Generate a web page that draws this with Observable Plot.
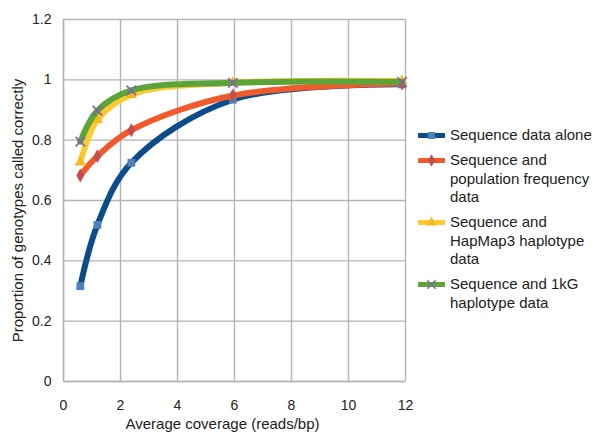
<!DOCTYPE html>
<html>
<head>
<meta charset="utf-8">
<script src="https://cdn.jsdelivr.net/npm/d3@7"></script>
<script src="https://cdn.jsdelivr.net/npm/@observablehq/plot@0.6"></script>
<style>
  html, body { margin: 0; padding: 0; background: #fff; }
  #wrap { position: relative; width: 600px; height: 442px; font-family: "Liberation Sans", Arial, sans-serif; }
  #legend { position: absolute; left: 418px; top: 126px; font-size: 15px; color: #222; line-height: 18.5px; }
  .item { display: flex; align-items: flex-start; margin-bottom: 6.5px; }
  .item svg { flex: none; margin-top: 0px; margin-right: 5px; }
</style>
</head>
<body>
<div id="wrap"><div id="legend"></div></div>
<script>
const coverage = [0.59, 1.19, 2.38, 5.94, 11.88];
const seriesNames = [
  "Sequence data alone",
  "Sequence and population frequency data",
  "Sequence and HapMap3 haplotype data",
  "Sequence and 1kG haplotype data"
];
const legendLines = [
  ["Sequence data alone"],
  ["Sequence and", "population frequency", "data"],
  ["Sequence and", "HapMap3 haplotype", "data"],
  ["Sequence and 1kG", "haplotype data"]
];
const seqAlone    = [0.316, 0.519, 0.725, 0.934, 0.985];
const seqPopFreq  = [0.683, 0.747, 0.833, 0.948, 0.988];
const seqHapMap3  = [0.727, 0.868, 0.951, 0.990, 0.996];
const seq1kG      = [0.795, 0.898, 0.965, 0.990, 0.993];
const xTicks = [0, 2, 4, 6, 8, 10, 12];
const yTicks = [0, 0.2, 0.4, 0.6, 0.8, 1, 1.2];
const yTickLabels = ["0", "0.2", "0.4", "0.6", "0.8", "1", "1.2"];

const lineColors = ["#0d4c8b", "#f15a2b", "#ffca2e", "#5aa43a"];
const markerFill = ["#4f81bd", "#c0504d", "#f4b820", "none"];
const markerStroke = ["none", "none", "none", "#8064a2"];
const symbols = ["square", "diamond", "triangle", "times"];
const markerR = [4.4, 4.2, 4.2, 4.4];

const allValues = [seqAlone, seqPopFreq, seqHapMap3, seq1kG];
const data = allValues.flatMap((vals, s) =>
  vals.map((v, i) => ({series: seriesNames[s], s, x: coverage[i], y: v})));

const marks = [
  Plot.gridX(xTicks, {stroke: "#b3b3b3", strokeOpacity: 1, strokeWidth: 1.4}),
  Plot.gridY(yTicks, {stroke: "#b3b3b3", strokeOpacity: 1, strokeWidth: 1.4}),
  Plot.ruleY([0], {stroke: "#b3b3b3", strokeWidth: 1.4}),
  Plot.ruleX([0], {stroke: "#b3b3b3", strokeWidth: 1.4}),
  Plot.axisX(xTicks, {tickSize: 0, tickPadding: 19, fontSize: 14, label: null, fill: "#222"}),
  Plot.axisY(yTicks, {tickSize: 0, tickPadding: 12, fontSize: 14, label: null, fill: "#222",
    tickFormat: (d) => yTickLabels[yTicks.indexOf(d)]}),
  Plot.text(["Average coverage (reads/bp)"], {frameAnchor: "bottom", textAnchor: "middle", dy: 47, dx: -12, fontSize: 15, fill: "#222"}),
  Plot.text(["Proportion of genotypes called correctly"], {frameAnchor: "left", textAnchor: "middle", dx: -45, dy: 10, rotate: -90, fontSize: 15, fill: "#222"})
];
for (let s = 0; s < 4; s++) {
  const d = data.filter(r => r.s === s);
  marks.push(Plot.line(d, {x: "x", y: "y", stroke: lineColors[s], strokeWidth: 6, curve: "catmull-rom"}));
  marks.push(Plot.dot(d, {x: "x", y: "y", symbol: () => symbols[s], r: markerR[s],
    fill: markerFill[s], stroke: markerStroke[s], strokeWidth: 1.6}));
}

const chart = Plot.plot({
  width: 600, height: 442,
  marginLeft: 63, marginRight: 195, marginTop: 19, marginBottom: 61,
  style: {fontFamily: "'Liberation Sans', Arial, sans-serif", background: "#fff"},
  x: {domain: [0, 12]},
  y: {domain: [0, 1.2]},
  marks
});
document.getElementById("wrap").prepend(chart);

// legend
const legend = d3.select("#legend");
legendLines.forEach((lines, s) => {
  const item = legend.append("div").attr("class", "item");
  const svg = item.append("svg").attr("width", 27).attr("height", 18);
  svg.append("line").attr("x1", 1).attr("x2", 26).attr("y1", 9.5).attr("y2", 9.5)
    .attr("stroke", lineColors[s]).attr("stroke-width", 5).attr("stroke-linecap", "round");
  const sym = d3.symbol().type({square: d3.symbolSquare, diamond: d3.symbolDiamond, triangle: d3.symbolTriangle, times: d3.symbolTimes}[symbols[s]])
    .size(Math.PI * markerR[s] * markerR[s] * 0.8);
  svg.append("path").attr("d", sym()).attr("transform", "translate(13.5,9.5)")
    .attr("fill", markerFill[s]).attr("stroke", markerStroke[s]).attr("stroke-width", 1.4);
  const t = item.append("div");
  lines.forEach(l => t.append("div").text(l));
});
</script>
</body>
</html>
